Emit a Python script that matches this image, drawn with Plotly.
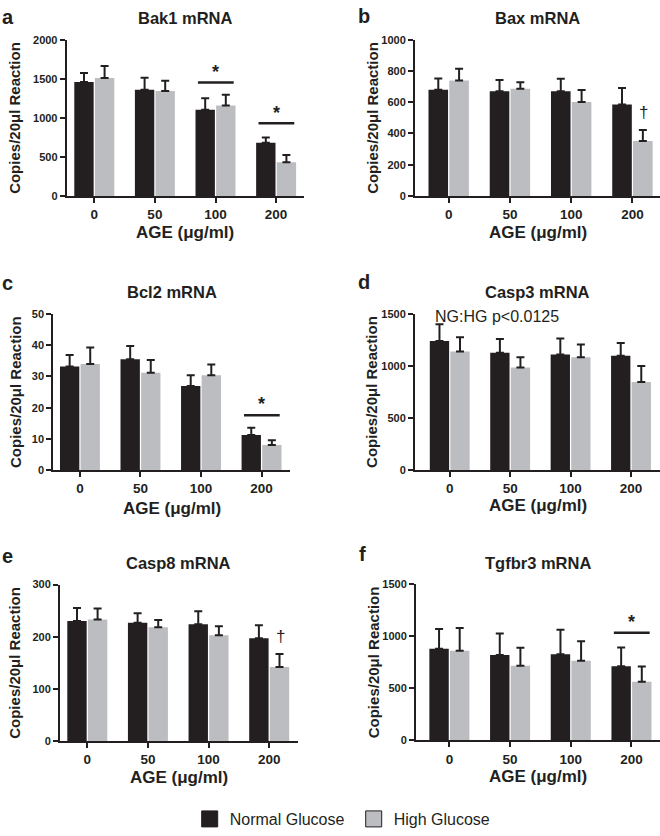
import plotly.graph_objects as go

W, H = 660, 836
FONT = "Liberation Sans"
INK = "#231f20"
GRAY = "#bcbdc0"

ages = ["0", "50", "100", "200"]

bak1_ng = [1460, 1360, 1105, 680]
bak1_ng_err = [115, 155, 145, 70]
bak1_hg = [1510, 1345, 1160, 430]
bak1_hg_err = [155, 130, 135, 93]

bax_ng = [680, 670, 670, 585]
bax_ng_err = [72, 72, 80, 106]
bax_hg = [740, 686, 602, 352]
bax_hg_err = [74, 42, 76, 71]

bcl2_ng = [33.2, 35.5, 26.9, 11.3]
bcl2_ng_err = [3.6, 4.2, 3.5, 2.3]
bcl2_hg = [34.0, 31.2, 30.4, 8.1]
bcl2_hg_err = [5.2, 4.0, 3.4, 1.5]

casp3_ng = [1240, 1127, 1108, 1096]
casp3_ng_err = [160, 130, 155, 123]
casp3_hg = [1137, 985, 1083, 846]
casp3_hg_err = [139, 98, 123, 152]

casp8_ng = [230, 227, 224, 197]
casp8_ng_err = [25, 18, 25, 25]
casp8_hg = [233, 218, 203, 142]
casp8_hg_err = [21, 14, 17, 25]

tgfbr3_ng = [881, 821, 827, 713]
tgfbr3_ng_err = [190, 205, 237, 180]
tgfbr3_hg = [862, 716, 764, 562]
tgfbr3_hg_err = [218, 174, 189, 148]

panel_letters = ["a", "b", "c", "d", "e", "f"]
panel_titles = ["Bak1 mRNA", "Bax mRNA", "Bcl2 mRNA", "Casp3 mRNA", "Casp8 mRNA", "Tgfbr3 mRNA"]
y_maxes = [2000, 1000, 50, 1500, 300, 1500]
y_dticks = [500, 200, 10, 500, 100, 500]
series_names = ["Normal Glucose", "High Glucose"]

data = [
    (bak1_ng, bak1_ng_err, bak1_hg, bak1_hg_err),
    (bax_ng, bax_ng_err, bax_hg, bax_hg_err),
    (bcl2_ng, bcl2_ng_err, bcl2_hg, bcl2_hg_err),
    (casp3_ng, casp3_ng_err, casp3_hg, casp3_hg_err),
    (casp8_ng, casp8_ng_err, casp8_hg, casp8_hg_err),
    (tgfbr3_ng, tgfbr3_ng_err, tgfbr3_hg, tgfbr3_hg_err),
]

# geometry in pixels: (x0, x1, ytop, ybottom), x range
geom = [
    (66.7, 304, 34.3, 192.7, [-0.455, 3.46]),
    (415, 660, 34.3, 192.7, [-0.55, 3.45]),
    (53.3, 290, 312.3, 471, [-0.44, 3.47]),
    (415, 660, 312.3, 470.7, [-0.575, 3.48]),
    (60, 297.7, 587, 745.7, [-0.45, 3.47]),
    (416, 660, 586.7, 745, [-0.55, 3.47]),
]
# label positions in px (left x, baseline y)
letter_pos = [(0, 17.8), (356, 17), (0, 288), (356, 287), (0, 565), (357, 563)]
title_y = [12.4, 12.4, 290, 290, 565, 565]
ytitle_x = [15, 373, 15, 372, 15, 373]
xtitle_y = [230, 230, 510, 507, 783, 782]


def fx(x):
    return x / W


def fy(y):
    return 1 - y / H


fig = go.Figure()
annotations = []
shapes = []
layout_axes = {}

for i in range(6):
    ng, ng_e, hg, hg_e = data[i]
    x0, x1, yt, yb, xr = geom[i]
    xa = "x" if i == 0 else f"x{i+1}"
    ya = "y" if i == 0 else f"y{i+1}"
    xkey = "xaxis" if i == 0 else f"xaxis{i+1}"
    ykey = "yaxis" if i == 0 else f"yaxis{i+1}"
    for vals, errs, col, name in ((ng, ng_e, INK, series_names[0]), (hg, hg_e, GRAY, series_names[1])):
        fig.add_trace(go.Bar(
            x=ages, y=vals, name=name, xaxis=xa, yaxis=ya, showlegend=False,
            marker=dict(color=col, line=dict(width=0)),
            offsetgroup=name,
            error_y=dict(type="data", array=errs, arrayminus=[0] * len(errs), symmetric=False,
                         color=INK, thickness=2, width=4),
        ))
    layout_axes[xkey] = dict(
        domain=[fx(x0), fx(x1)], anchor=ya, type="category", range=xr,
        showline=True, linewidth=2, linecolor=INK, ticks="outside", ticklen=5, tickwidth=2,
        tickcolor=INK, showgrid=False, zeroline=False,
        tickfont=dict(family=FONT, size=13.5, color=INK, weight="bold"),
    )
    layout_axes[ykey] = dict(
        domain=[fy(yb), fy(yt)], anchor=xa, range=[0, y_maxes[i]], dtick=y_dticks[i],
        showline=True, linewidth=2, linecolor=INK, ticks="outside", ticklen=5, tickwidth=2,
        tickcolor=INK, showgrid=False, zeroline=False,
        tickfont=dict(family=FONT, size=11, color=INK, weight="bold"),
    )
    cx = (x0 + x1) / 2
    annotations.append(dict(text=panel_titles[i], x=fx(cx), y=fy(title_y[i]), xref="paper", yref="paper",
                            showarrow=False, xanchor="center", yanchor="middle",
                            font=dict(family=FONT, size=16.5, color=INK, weight="bold")))
    lx, ly = letter_pos[i]
    annotations.append(dict(text=panel_letters[i], x=fx(lx), y=fy(ly - 0.35 * 20), xref="paper", yref="paper",
                            showarrow=False, xanchor="left", yanchor="middle",
                            font=dict(family=FONT, size=20, color=INK, weight="bold")))
    annotations.append(dict(text="Copies/20μl Reaction", x=fx(ytitle_x[i]), y=fy((yt + yb) / 2),
                            xref="paper", yref="paper", showarrow=False, textangle=-90,
                            xanchor="center", yanchor="middle",
                            font=dict(family=FONT, size=15, color=INK, weight="bold")))
    annotations.append(dict(text="AGE (μg/ml)", x=fx(cx), y=fy(xtitle_y[i]), xref="paper", yref="paper",
                            showarrow=False, xanchor="center", yanchor="middle",
                            font=dict(family=FONT, size=17, color=INK, weight="bold")))

# significance markers: (panel index, category index, line y, star y)
sig_lines = [(0, 2, 1453, 1590), (0, 3, 930, 1057), (2, 3, 17.6, 21.1), (5, 3, 1035, 1137)]
for p, c, ly, sy in sig_lines:
    xa = "x" if p == 0 else f"x{p+1}"
    ya = "y" if p == 0 else f"y{p+1}"
    shapes.append(dict(type="line", xref=xa, yref=ya, x0=c - 0.29, x1=c + 0.3, y0=ly, y1=ly,
                       line=dict(color=INK, width=2.5)))
    annotations.append(dict(text="*", x=c, y=sy, xref=xa, yref=ya, showarrow=False,
                            xanchor="center", yanchor="middle",
                            font=dict(family=FONT, size=18, color=INK, weight="bold")))

daggers = [(1, 3, 533), (4, 3, 200)]
for p, c, dy in daggers:
    xa = f"x{p+1}"
    ya = f"y{p+1}"
    annotations.append(dict(text="†", x=c + 0.18, y=dy, xref=xa, yref=ya, showarrow=False,
                            xanchor="center", yanchor="middle",
                            font=dict(family=FONT, size=17, color=INK)))

annotations.append(dict(text="NG:HG p<0.0125", x=fx(432.5), y=fy(315), xref="paper", yref="paper",
                        showarrow=False, xanchor="left", yanchor="middle",
                        font=dict(family=FONT, size=16, color=INK)))

# legend entries
for name, col in ((series_names[0], INK), (series_names[1], GRAY)):
    fig.add_trace(go.Scatter(x=[None], y=[None], mode="markers", name=name, showlegend=True,
                             marker=dict(symbol="square", size=20, color=col, line=dict(color=INK, width=1))))

fig.update_layout(
    width=W, height=H, margin=dict(l=0, r=0, t=0, b=0),
    paper_bgcolor="white", plot_bgcolor="white",
    barmode="group", bargap=0.32, bargroupgap=0.06,
    showlegend=True,
    legend=dict(orientation="h", x=fx(189.7), y=fy(825), xanchor="left", yanchor="middle",
                font=dict(family=FONT, size=16, color=INK), bgcolor="rgba(0,0,0,0)",
                entrywidth=119, itemsizing="trace"),
    annotations=annotations, shapes=shapes,
    **layout_axes,
)

fig.write_html(
    "out.html",
    config={"displayModeBar": False},
    post_script="document.body.style.margin='0';document.body.style.padding='0';document.body.style.overflow='hidden';",
)
